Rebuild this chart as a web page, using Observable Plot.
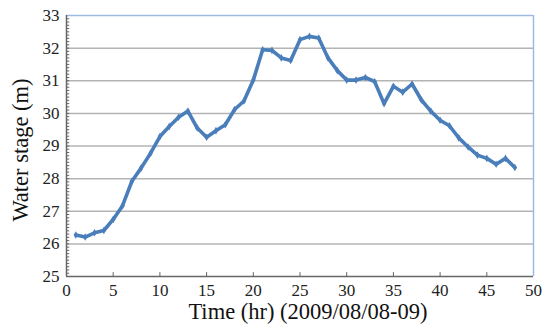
<!DOCTYPE html>
<html>
<head>
<meta charset="utf-8">
<script src="https://cdn.jsdelivr.net/npm/d3@7"></script>
<script src="https://cdn.jsdelivr.net/npm/@observablehq/plot@0.6"></script>
<style>
  html, body { margin: 0; padding: 0; background: #fff; }
  #chart svg { display: block; }
</style>
</head>
<body>
<div id="chart"></div>
<script>
const hours = d3.range(1, 49);
const stage = [
  26.27, 26.21, 26.34, 26.41, 26.75, 27.17, 27.92, 28.33, 28.78, 29.29,
  29.60, 29.88, 30.07, 29.55, 29.27, 29.47, 29.65, 30.12, 30.38, 31.02,
  31.95, 31.93, 31.70, 31.62, 32.26, 32.36, 32.31, 31.70, 31.31, 31.02,
  31.02, 31.10, 30.97, 30.30, 30.83, 30.65, 30.90, 30.41, 30.07, 29.79,
  29.62, 29.25, 28.97, 28.72, 28.62, 28.44, 28.62, 28.34
];
const xTicks = [0, 5, 10, 15, 20, 25, 30, 35, 40, 45, 50];
const yTicks = [25, 26, 27, 28, 29, 30, 31, 32, 33];
const yMinor = d3.range(251, 330).map(d => d / 10);
const xLabel = "Time (hr) (2009/08/08-09)";
const yLabel = "Water stage (m)";

const data = hours.map((h, i) => ({h, v: stage[i]}));

const chart = Plot.plot({
  width: 548,
  height: 331,
  marginLeft: 66,
  marginRight: 15,
  marginTop: 15,
  marginBottom: 55,
  style: {fontFamily: "'Liberation Serif', 'DejaVu Serif', serif", background: "#fff"},
  x: {domain: [0, 50]},
  y: {domain: [25, 33]},
  marks: [
    Plot.ruleY([26, 27, 28, 29, 30, 31, 32], {stroke: "#b4b4b4", strokeWidth: 1.5}),
    Plot.ruleY([33], {stroke: "#9dbbe2", strokeWidth: 1.5}),
    Plot.ruleX([50], {stroke: "#9dbbe2", strokeWidth: 1.5}),
    Plot.ruleY(yMinor, {y: d => d, x1: 0, x2: 0.35, stroke: "#666", strokeWidth: 1}),
    Plot.ruleX(xTicks.slice(1, -1), {x: d => d, y1: 25, y2: 25.12, stroke: "#666", strokeWidth: 1}),
    Plot.ruleX([0], {stroke: "#666", strokeWidth: 1.5}),
    Plot.ruleY([25], {stroke: "#666", strokeWidth: 1.5}),
    Plot.axisX({ticks: xTicks, tickSize: 0, tickPadding: 7, fontSize: 17, color: "#222", label: null}),
    Plot.axisY({ticks: yTicks, tickSize: 0, tickPadding: 7, fontSize: 17, color: "#222", label: null}),
    Plot.text([xLabel], {text: d => d, frameAnchor: "bottom", dy: 42, dx: 8, fontSize: 22.5, fill: "#111"}),
    Plot.text([yLabel], {text: d => d, frameAnchor: "left", textAnchor: "middle", rotate: -90, dx: -46, dy: 4, fontSize: 22.5, fill: "#111"}),
    Plot.line(data, {x: "h", y: "v", stroke: "#4a7ebb", strokeWidth: 3.6, curve: "linear", strokeLinejoin: "round"}),
    Plot.dot(data, {x: "h", y: "v", r: 2.3, fill: "#4a7ebb", symbol: "diamond"})
  ]
});
document.getElementById("chart").appendChild(chart);
</script>
</body>
</html>
